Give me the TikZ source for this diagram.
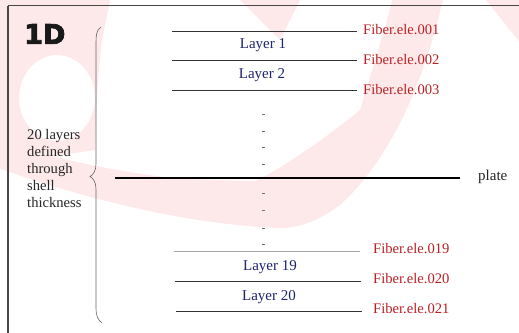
\documentclass[tikz,border=0pt]{standalone}
\usepackage{fontspec}
\setmainfont{Liberation Serif}
\newfontfamily\headfont{DejaVu Sans}[BoldFeatures={FakeBold=3}]
\definecolor{fiberred}{RGB}{188,32,36}
\definecolor{layerblue}{RGB}{30,36,110}
\definecolor{framegray}{RGB}{70,70,70}
\definecolor{wmpink}{RGB}{253,233,233}
\tikzset{
  layerline/.style={line width=0.9pt, draw=black!80},
  faintline/.style={line width=0.9pt, draw=black!35},
  platelink/.style={line width=2.2pt, draw=black},
  fiberlabel/.style={text=fiberred, font=\fontsize{14.6}{17}\selectfont, anchor=west, inner sep=0pt},
  layerlabel/.style={text=layerblue, font=\fontsize{15}{17}\selectfont, inner sep=0pt},
  dotmark/.style={line width=0.8pt, draw=black!55},
}
\begin{document}
\begin{tikzpicture}[x=1pt,y=-1pt]
\useasboundingbox (0,0) rectangle (519,332);
\fill[white] (0,0) rectangle (519,332);

% faint logo swirl in the background
\begin{scope}
  \clip (0,0) rectangle (519,332);
  % ring round the upper left corner
  \fill[wmpink, even odd rule]
    (-10,-10) -- (112,-10) -- (102,40) .. controls (98,70) and (96,110) .. (95,150) -- (-10,165) -- cycle
    (57,98) ellipse [x radius=38, y radius=43];
  % sweeping band under the plate and up to the top edge
  \fill[wmpink]
    (-10,135) .. controls (50,160) and (120,172) .. (180,179)
    -- (255,181) .. controls (280,170) and (330,135) .. (360,110)
    .. controls (372,70) and (385,30) .. (395,-10)
    -- (445,-10) .. controls (430,60) and (400,150) .. (340,205)
    .. controls (320,220) and (300,228) .. (280,228)
    .. controls (200,225) and (100,205) .. (-10,165) -- cycle;
  \fill[wmpink] (230,-10) -- (305,-10) -- (280,40) -- cycle;
  \fill[wmpink] (478,-10) -- (530,-10) -- (530,55) -- cycle;
\end{scope}

% frame
\draw[framegray, line width=1.2pt] (8,5.5) -- (530,5.5);
\draw[framegray, line width=1.2pt] (8,5.5) -- (8,340);

% title
\node[font=\headfont\bfseries\fontsize{27}{30}\selectfont, text=black!90, inner sep=0pt, anchor=west] (title) at (24,34) {1D};

% brace over the full thickness
\draw[black!60, line width=0.6pt]
  (101,27) .. controls (96,30) and (96,36) .. (96,46)
  -- (96,164) .. controls (96,171) and (93,175) .. (90,176.5)
  .. controls (93,178) and (96,182) .. (96,189)
  -- (96,308) .. controls (96,316) and (98,320) .. (102,323);

% description of the brace
\node[font=\fontsize{14.6}{17}\selectfont, align=left, anchor=north west, inner sep=0pt, text=black!85] (desc) at (27,129)
  {20 layers\\defined\\through\\shell\\thickness};

% upper layer boundaries
\coordinate (u1a) at (172,31);   \coordinate (u1b) at (357,31);
\coordinate (u2a) at (172,60.5); \coordinate (u2b) at (357,60.5);
\coordinate (u3a) at (172,90.5); \coordinate (u3b) at (357,90.5);
\draw[layerline] (u1a) -- (u1b);
\draw[layerline] (u2a) -- (u2b);
\draw[layerline] (u3a) -- (u3b);

\node[fiberlabel] (f001) at (363,29.5) {Fiber.ele.001};
\node[fiberlabel] (f002) at (363,60) {Fiber.ele.002};
\node[fiberlabel] (f003) at (363,90) {Fiber.ele.003};
\node[layerlabel] (l1) at (263,45.5) {Layer 1};
\node[layerlabel] (l2) at (262,75.5) {Layer 2};

% ellipsis marks above and below the plate
\foreach \y in {114,131,147,164,193,210,228,244}
  \draw[dotmark] (262,\y) -- (264.5,\y);

% mid-surface
\coordinate (pa) at (115,178);
\coordinate (pb) at (460,178);
\draw[platelink] (pa) -- (pb);
\node[font=\fontsize{15}{17}\selectfont, anchor=west, inner sep=0pt, text=black!85] (plate) at (478,177) {plate};

% lower layer boundaries
\coordinate (d1a) at (174,251.5); \coordinate (d1b) at (360,251.5);
\coordinate (d2a) at (175,281);   \coordinate (d2b) at (361,281);
\coordinate (d3a) at (176,311);   \coordinate (d3b) at (362,311);
\draw[faintline] (d1a) -- (d1b);
\draw[layerline] (d2a) -- (d2b);
\draw[layerline] (d3a) -- (d3b);

\node[fiberlabel] (f019) at (373,248.5) {Fiber.ele.019};
\node[fiberlabel] (f020) at (373,279) {Fiber.ele.020};
\node[fiberlabel] (f021) at (373,309) {Fiber.ele.021};
\node[layerlabel] (l19) at (270,267.5) {Layer 19};
\node[layerlabel] (l20) at (269,297.5) {Layer 20};
\end{tikzpicture}
\end{document}
